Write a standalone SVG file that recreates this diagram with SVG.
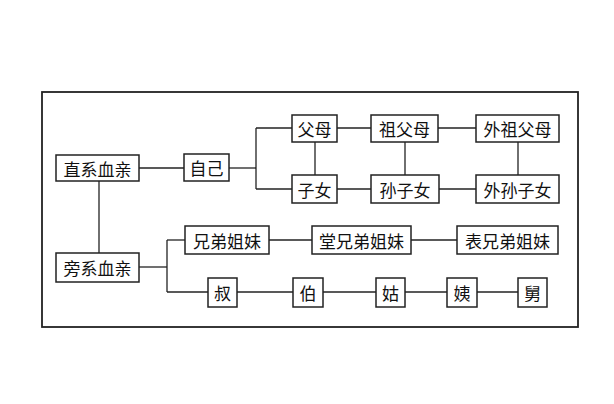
<svg xmlns="http://www.w3.org/2000/svg" width="614" height="404" viewBox="0 0 614 404">
<style>
rect.n{fill:#fff;stroke:#222;stroke-width:1.5}
text{font-family:"Noto Sans CJK SC",sans-serif;font-size:17px;fill:#111;text-anchor:middle;dominant-baseline:central}
#c line{stroke:#222;stroke-width:1.3}
</style>
<rect width="614" height="404" fill="#fff"/>
<rect x="42" y="92" width="536" height="235" fill="none" stroke="#222" stroke-width="1.8"/>
<g id="c">
<line x1="139" y1="168" x2="184" y2="168"/>
<line x1="229" y1="168" x2="256" y2="168"/>
<line x1="256" y1="128" x2="256" y2="189"/>
<line x1="256" y1="128" x2="292" y2="128"/>
<line x1="256" y1="189" x2="292" y2="189"/>
<line x1="337" y1="128" x2="371" y2="128"/>
<line x1="438" y1="128" x2="476" y2="128"/>
<line x1="337" y1="189" x2="371" y2="189"/>
<line x1="439" y1="189" x2="476" y2="189"/>
<line x1="315" y1="142" x2="315" y2="175"/>
<line x1="405" y1="142" x2="405" y2="175"/>
<line x1="518" y1="142" x2="518" y2="175"/>
<line x1="99" y1="181" x2="99" y2="253"/>
<line x1="139" y1="267" x2="167" y2="267"/>
<line x1="167" y1="240" x2="167" y2="292"/>
<line x1="167" y1="240" x2="185" y2="240"/>
<line x1="167" y1="292" x2="208" y2="292"/>
<line x1="269" y1="240" x2="312" y2="240"/>
<line x1="411" y1="240" x2="457" y2="240"/>
<line x1="237" y1="292" x2="293" y2="292"/>
<line x1="323" y1="292" x2="376" y2="292"/>
<line x1="405" y1="292" x2="447" y2="292"/>
<line x1="477" y1="292" x2="518" y2="292"/>
</g>
<g id="zhixi"><rect class="n" x="56" y="155" width="83" height="26"/><text x="97.5" y="168">直系血亲</text></g>
<g id="ziji"><rect class="n" x="184" y="154" width="45" height="27"/><text x="206.5" y="167.5">自己</text></g>
<g id="fumu"><rect class="n" x="292" y="115" width="45" height="27"/><text x="314.5" y="128.5">父母</text></g>
<g id="zinv"><rect class="n" x="292" y="175" width="45" height="28"/><text x="314.5" y="189">子女</text></g>
<g id="zufumu"><rect class="n" x="371" y="115" width="67" height="27"/><text x="404.5" y="128.5">祖父母</text></g>
<g id="waizufumu"><rect class="n" x="476" y="115" width="83" height="27"/><text x="517.5" y="128.5">外祖父母</text></g>
<g id="sunzinv"><rect class="n" x="371" y="175" width="68" height="28"/><text x="405" y="189">孙子女</text></g>
<g id="waisunzinv"><rect class="n" x="476" y="175" width="83" height="28"/><text x="517.5" y="189">外孙子女</text></g>
<g id="pangxi"><rect class="n" x="56" y="253" width="83" height="29"/><text x="97.5" y="267.5">旁系血亲</text></g>
<g id="xiongdi"><rect class="n" x="185" y="226" width="84" height="28"/><text x="227" y="240">兄弟姐妹</text></g>
<g id="tang"><rect class="n" x="312" y="226" width="99" height="28"/><text x="361.5" y="240">堂兄弟姐妹</text></g>
<g id="biao"><rect class="n" x="457" y="226" width="101" height="28"/><text x="507.5" y="240">表兄弟姐妹</text></g>
<g id="shu"><rect class="n" x="208" y="278" width="29" height="29"/><text x="222.5" y="292.5">叔</text></g>
<g id="bo"><rect class="n" x="293" y="278" width="30" height="29"/><text x="308" y="292.5">伯</text></g>
<g id="gu"><rect class="n" x="376" y="278" width="29" height="29"/><text x="390.5" y="292.5">姑</text></g>
<g id="yi"><rect class="n" x="447" y="278" width="30" height="29"/><text x="462" y="292.5">姨</text></g>
<g id="jiu"><rect class="n" x="518" y="278" width="29" height="29"/><text x="532.5" y="292.5">舅</text></g>
</svg>
